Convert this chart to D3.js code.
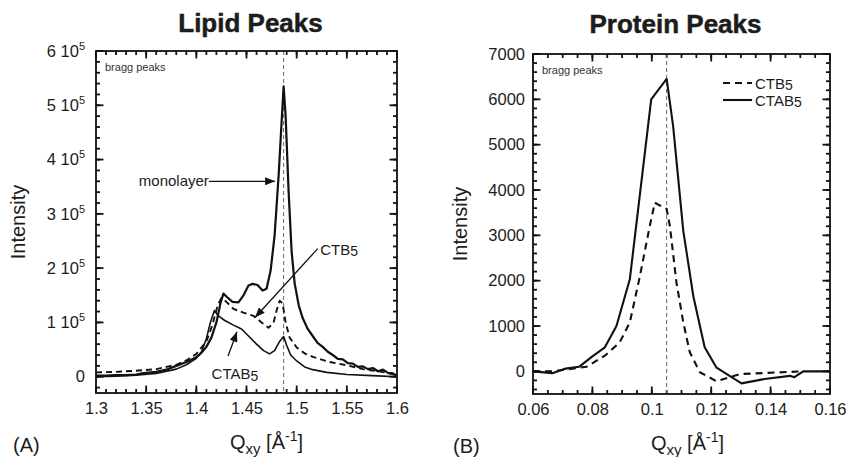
<!DOCTYPE html>
<meta charset="utf-8">
<style>
body {
  margin: 0;
  background: #fff;
  font-family: 'Liberation Sans', Arial, sans-serif;
}
svg text { fill: #1c1c1c; }
.frame { fill: none; stroke: #111; stroke-width: 1.8; }
.axis text { font-size: 16.5px; }
.tickmark { stroke: #111; stroke-width: 1.8; }
.title { font-weight: bold; font-size: 26px; text-anchor: middle; stroke: #1c1c1c; stroke-width: 0.5; }
.axis-title { font-size: 20px; text-anchor: middle; }
.note { font-size: 11px; fill: #333; }
.ann { font-size: 15px; }
.guide { stroke: #666; stroke-width: 1; stroke-dasharray: 4,3; fill: none; }
.curve { fill: none; stroke: #111; stroke-linejoin: round; }
</style>

<svg id="chart" width="846" height="457"></svg>

<script src="https://cdn.jsdelivr.net/npm/d3@7/dist/d3.min.js"></script>
<script>

// ---- lipid peaks, [Qxy, intensity]
var lipidMonolayer = [
  [1.300, 2000], [1.310, 2000], [1.320, 3000], [1.330, 3000], [1.340, 4000],
  [1.345, 6000], [1.350, 7000], [1.360, 9000], [1.370, 13000], [1.380, 20000],
  [1.390, 27000], [1.400, 36000], [1.405, 44000], [1.410, 55000], [1.415, 72000],
  [1.420, 100000], [1.424, 135000], [1.427, 153000], [1.431, 146000], [1.436, 138000],
  [1.442, 137000], [1.447, 150000], [1.452, 168000], [1.456, 171000], [1.461, 169000],
  [1.466, 159000], [1.470, 162000], [1.474, 195000], [1.478, 260000], [1.482, 370000],
  [1.485, 470000], [1.487, 535000], [1.489, 480000], [1.492, 340000], [1.495, 230000],
  [1.498, 172000], [1.502, 132000], [1.506, 108000], [1.511, 88000], [1.516, 75000],
  [1.521, 62000], [1.526, 55000], [1.531, 46000], [1.536, 40000], [1.541, 33000],
  [1.546, 32000], [1.551, 25000], [1.556, 24000], [1.561, 18000], [1.566, 19000],
  [1.571, 14000], [1.576, 16000], [1.581, 10000], [1.586, 13000], [1.591, 7000],
  [1.596, 6000], [1.600, 1000]
];
var lipidCTB5 = [
  [1.300, 8000], [1.320, 9000], [1.340, 11000], [1.360, 14000], [1.380, 22000],
  [1.390, 30000], [1.400, 42000], [1.410, 65000], [1.416, 95000], [1.421, 130000],
  [1.425, 145000], [1.430, 138000], [1.437, 125000], [1.447, 118000], [1.457, 112000],
  [1.465, 100000], [1.472, 90000], [1.477, 100000], [1.480, 122000], [1.483, 140000],
  [1.486, 135000], [1.489, 100000], [1.493, 72000], [1.500, 54000], [1.508, 43000],
  [1.517, 36000], [1.533, 27000], [1.550, 21000], [1.566, 14000], [1.585, 9000],
  [1.600, 3000]
];
var lipidCTAB5 = [
  [1.300, 0], [1.320, 1000], [1.340, 3000], [1.360, 6000], [1.380, 14000],
  [1.390, 22000], [1.400, 34000], [1.405, 45000], [1.410, 70000], [1.414, 100000],
  [1.418, 122000], [1.422, 112000], [1.428, 104000], [1.437, 95000], [1.445, 88000],
  [1.452, 75000], [1.460, 60000], [1.467, 48000], [1.473, 42000], [1.478, 48000],
  [1.483, 65000], [1.487, 74000], [1.490, 58000], [1.494, 40000], [1.500, 29000],
  [1.508, 18000], [1.516, 13000], [1.530, 8000], [1.550, 4000], [1.575, 2000],
  [1.600, 0]
];

// ---- protein peaks, [Qxy, intensity]
var proteinCTB5 = [
  [0.0600, 0], [0.0665, 0], [0.0710, 40], [0.0780, 100], [0.0842, 345],
  [0.0892, 640], [0.0926, 1080], [0.0960, 2100], [0.0993, 3200], [0.1010, 3720],
  [0.1050, 3580], [0.1061, 3200], [0.1083, 1960], [0.1106, 1080], [0.1128, 420],
  [0.1162, -20], [0.1218, -220], [0.1297, -60], [0.1510, 0]
];
var proteinCTAB5 = [
  [0.0600, 0], [0.0665, -40], [0.0710, 60], [0.0755, 100], [0.0800, 330],
  [0.0842, 530], [0.0881, 1000], [0.0926, 2030], [0.0998, 6000], [0.1050, 6450],
  [0.1072, 5400], [0.1106, 3100], [0.1140, 1650], [0.1178, 530], [0.1218, 80],
  [0.1302, -265], [0.1380, -170], [0.1465, -100], [0.1480, -130], [0.1510, 0],
  [0.1600, 0]
];

// ---- ticks
var lipidXTicks = [1.3, 1.35, 1.4, 1.45, 1.5, 1.55, 1.6];
var lipidXLabels = ["1.3", "1.35", "1.4", "1.45", "1.5", "1.55", "1.6"];
var lipidYTicks = [0, 1e5, 2e5, 3e5, 4e5, 5e5, 6e5];
var lipidYLabels = ["0", "1", "2", "3", "4", "5", "6"];   // times 10^5
var proteinXTicks = [0.06, 0.08, 0.1, 0.12, 0.14, 0.16];
var proteinXLabels = ["0.06", "0.08", "0.1", "0.12", "0.14", "0.16"];
var proteinYTicks = [0, 1000, 2000, 3000, 4000, 5000, 6000, 7000];
var proteinYLabels = ["0", "1000", "2000", "3000", "4000", "5000", "6000", "7000"];

var braggLipid = 1.487,
    braggProtein = 0.105;

var svg = d3.select("#chart");

var defs = svg.append("defs");
defs.append("marker")
    .attr("id", "arrow")
    .attr("viewBox", "0 0 10 8")
    .attr("refX", 10).attr("refY", 4)
    .attr("markerWidth", 11).attr("markerHeight", 8)
    .attr("markerUnits", "userSpaceOnUse")
    .attr("orient", "auto")
  .append("path")
    .attr("d", "M0,0L10,4L0,8Z")
    .attr("fill", "#111");

function range(a, b, step) {
  var out = [];
  for (var i = 0; a + i * step <= b + step / 1000; i++) out.push(+(a + i * step).toFixed(6));
  return out;
}

// draws one panel, returns the scales so annotations can be placed
function panel(opt) {
  var w = opt.right - opt.left, h = opt.bottom - opt.top;
  var x = d3.scaleLinear().domain(opt.xDomain).range([0, w]);
  var y = d3.scaleLinear().domain(opt.yDomain).range([h, 0]);

  var g = svg.append("g").attr("transform", "translate(" + opt.left + "," + opt.top + ")");

  g.append("clipPath").attr("id", opt.id + "-clip")
    .append("rect").attr("width", w).attr("height", h);

  // inward tick marks on all four sides
  function marks(xs, ys, size) {
    var m = g.append("g");
    m.selectAll(".xb").data(xs).join("line").attr("class", "tickmark")
      .attr("x1", x).attr("x2", x).attr("y1", h).attr("y2", h - size);
    m.selectAll(".xt").data(xs).join("line").attr("class", "tickmark")
      .attr("x1", x).attr("x2", x).attr("y1", 0).attr("y2", size);
    m.selectAll(".yl").data(ys).join("line").attr("class", "tickmark")
      .attr("y1", y).attr("y2", y).attr("x1", 0).attr("x2", size);
    m.selectAll(".yr").data(ys).join("line").attr("class", "tickmark")
      .attr("y1", y).attr("y2", y).attr("x1", w).attr("x2", w - size);
  }
  marks(opt.xMinor, opt.yMinor, 4);
  marks(opt.xTicks, opt.yTicks, 7.5);

  // tick labels
  var bx = g.append("g").attr("class", "axis").attr("transform", "translate(0," + h + ")")
    .call(d3.axisBottom(x).tickValues(opt.xTicks).tickSize(0).tickPadding(9)
      .tickFormat(function(d, i) { return opt.xLabels[i]; }));
  var ly = g.append("g").attr("class", "axis")
    .call(d3.axisLeft(y).tickValues(opt.yTicks).tickSize(0).tickPadding(opt.yPad)
      .tickFormat(function(d, i) { return opt.yLabels[i]; }));
  [bx, ly].forEach(function(a) {
    a.select(".domain").remove();
    a.selectAll("text").attr("fill", null);
  });
  if (opt.yPower) {
    ly.selectAll(".tick text").each(function(d, i) {
      if (d === 0) return;
      var txt = d3.select(this).text("");
      txt.append("tspan").text(opt.yLabels[i] + " 10");
      txt.append("tspan").attr("dy", -7).style("font-size", "11px").text(opt.yPower);
    });
  }

  g.append("line").attr("class", "guide")
    .attr("x1", x(opt.bragg)).attr("x2", x(opt.bragg))
    .attr("y1", 0).attr("y2", h);

  var line = d3.line().x(function(d) { return x(d[0]); }).y(function(d) { return y(d[1]); });
  var plot = g.append("g").attr("clip-path", "url(#" + opt.id + "-clip)");
  opt.series.forEach(function(s) {
    plot.append("path").datum(s.data)
      .attr("class", "curve")
      .attr("stroke-width", s.width)
      .attr("stroke-dasharray", s.dash || null)
      .attr("d", line);
  });

  g.append("rect").attr("class", "frame").attr("width", w).attr("height", h);

  g.append("text").attr("class", "note").attr("x", 9).attr("y", 20).text("bragg peaks");

  // titles and labels
  var cx = w / 2;
  g.append("text").attr("class", "title").attr("x", cx + opt.titleShift).attr("y", opt.titleY).text(opt.title);

  g.append("text").attr("class", "axis-title")
    .attr("transform", "translate(" + opt.yTitleX + "," + (h / 2 + opt.yTitleShift) + ") rotate(-90)")
    .text("Intensity");

  var xt = g.append("text").attr("class", "axis-title").attr("x", cx + opt.xTitleShift).attr("y", h + 56);
  xt.append("tspan").text("Q");
  xt.append("tspan").attr("dy", 5).style("font-size", "15px").text("xy");
  xt.append("tspan").attr("dy", -5).text(" [Å");
  xt.append("tspan").attr("dy", -8).style("font-size", "14px").text("-1");
  xt.append("tspan").attr("dy", 8).text("]");

  g.append("text").attr("x", opt.tagX).attr("y", h + 59).style("font-size", "20px").text(opt.tag);

  return { g: g, x: x, y: y };
}

function sub(sel, main, s) {
  sel.append("tspan").text(main);
  sel.append("tspan").attr("dy", 1.5).style("font-size", "14px").text(s);
}

// ---- (A) lipid panel
var A = panel({
  id: "lipid", left: 96, right: 397, top: 51, bottom: 393,
  xDomain: [1.3, 1.6], yDomain: [-30000, 600000],
  xTicks: lipidXTicks, xLabels: lipidXLabels, xMinor: range(1.3, 1.6, 0.01),
  yTicks: lipidYTicks, yLabels: lipidYLabels, yMinor: range(-20000, 600000, 20000), yPower: "5", yPad: 11,
  bragg: braggLipid, title: "Lipid Peaks", titleShift: 4, titleY: -19, tag: "(A)", tagX: -83,
  yTitleX: -71, yTitleShift: 0, xTitleShift: 20,
  series: [
    { data: lipidCTB5, width: 1.9, dash: "6,4" },
    { data: lipidCTAB5, width: 1.6 },
    { data: lipidMonolayer, width: 2.2 }
  ]
});

function arrow(P, x1, y1, x2, y2) {
  P.g.append("line")
    .attr("x1", P.x(x1)).attr("y1", P.y(y1))
    .attr("x2", P.x(x2)).attr("y2", P.y(y2))
    .attr("stroke", "#111").attr("stroke-width", 1.3)
    .attr("marker-end", "url(#arrow)");
}

A.g.append("text").attr("class", "ann").attr("text-anchor", "end")
  .attr("x", A.x(1.4125)).attr("y", A.y(3.52e5)).text("monolayer");
arrow(A, 1.4125, 3.6e5, 1.4785, 3.6e5);

sub(A.g.append("text").attr("class", "ann").attr("x", A.x(1.5235)).attr("y", A.y(2.25e5)), "CTB", "5");
arrow(A, 1.521, 2.36e5, 1.4585, 1.09e5);

sub(A.g.append("text").attr("class", "ann").attr("text-anchor", "middle")
  .attr("x", A.x(1.4385)).attr("y", A.y(-5000)), "CTAB", "5");
arrow(A, 1.4316, 0.38e5, 1.4405, 0.83e5);

// ---- (B) protein panel
var B = panel({
  id: "protein", left: 533, right: 830, top: 54, bottom: 394,
  xDomain: [0.06, 0.16], yDomain: [-500, 7000],
  xTicks: proteinXTicks, xLabels: proteinXLabels, xMinor: range(0.06, 0.16, 0.005),
  yTicks: proteinYTicks, yLabels: proteinYLabels, yMinor: range(-400, 7000, 200), yPad: 8,
  bragg: braggProtein, title: "Protein Peaks", titleShift: -6, titleY: -21, tag: "(B)", tagX: -80,
  yTitleX: -66, yTitleShift: 0, xTitleShift: 6,
  series: [
    { data: proteinCTB5, width: 2.1, dash: "7,5" },
    { data: proteinCTAB5, width: 2.1 }
  ]
});

// legend
var lg = B.g.append("g").attr("transform", "translate(190,29)");
[{ label: "CTB", dash: "7,5" }, { label: "CTAB", dash: null }].forEach(function(d, i) {
  lg.append("line").attr("x1", 0).attr("x2", 29).attr("y1", i * 17).attr("y2", i * 17)
    .attr("stroke", "#111").attr("stroke-width", 2.1).attr("stroke-dasharray", d.dash);
  sub(lg.append("text").attr("class", "ann").attr("x", 32).attr("y", i * 17 + 5.5), d.label, "5");
});

</script>
